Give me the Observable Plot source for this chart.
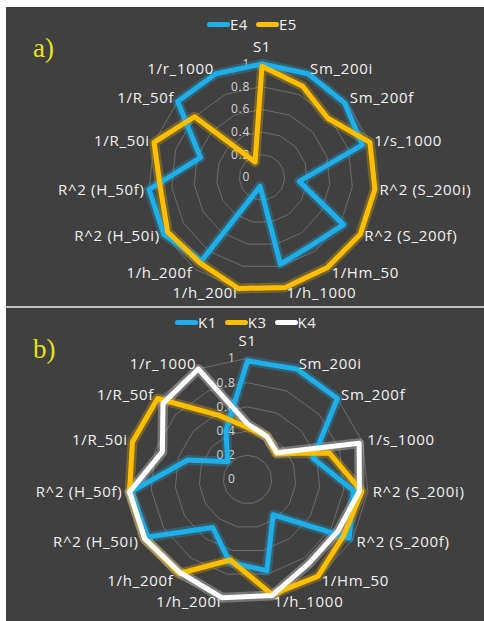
<!DOCTYPE html>
<html><head><meta charset="utf-8">
<script src="https://cdn.jsdelivr.net/npm/d3@7"></script>
<script src="https://cdn.jsdelivr.net/npm/@observablehq/plot@0.6"></script>
<style>
html,body{margin:0;padding:0;background:#fff}
body{width:484px;height:621px;overflow:hidden;position:relative;font-family:"Open Sans",sans-serif}
.panel{position:absolute;left:6px;width:478px;background:#404040;overflow:hidden}
#pa{top:7px;height:299px}
#pb{top:308px;height:313px}
.sep{position:absolute;left:6px;top:306px;width:478px;height:2px;background:#c4c4c4}
.panel svg{position:absolute;left:0;top:0}
.panel svg text{letter-spacing:0.7px}
.tag{position:absolute;left:27px;font-family:"Liberation Serif",serif;font-size:27px;color:#e4e41c;line-height:1}
.legend{position:absolute;top:9px;display:flex;align-items:center;color:#f2f2f2;font-size:15px;letter-spacing:0.5px;line-height:12px;height:12px}
.legend .sw{display:inline-block;width:23px;height:5px;border-radius:3px}
.legend .lb{margin-right:8px;line-height:12px}
</style>
</head><body>
<div class="panel" id="pa"></div>
<div class="sep"></div>
<div class="panel" id="pb"></div>
<script>
const categories = ["S1","Sm_200i","Sm_200f","1/s_1000","R^2 (S_200i)","R^2 (S_200f)","1/Hm_50","1/h_1000","1/h_200i","1/h_200f","R^2 (H_50i)","R^2 (H_50f)","1/R_50i","1/R_50f","1/r_1000"];
const ticks = [0, 0.2, 0.4, 0.6, 0.8, 1];
const tickLabels = ["0", "0.2", "0.4", "0.6", "0.8", "1"];

// panel a
const namesA = ["E4", "E5"];
const E4 = [1.0, 1.0, 0.98, 0.93, 0.33, 0.83, 0.74, 0.78, 0.08, 0.91, 1.0, 1.0, 0.57, 1.0, 1.0];
const E5 = [0.98, 0.88, 0.78, 1.0, 1.0, 1.0, 0.98, 0.99, 1.0, 0.93, 0.96, 0.9, 1.0, 0.8, 0.15];

// panel b
const namesB = ["K1", "K3", "K4"];
const K1 = [0.98, 1.0, 1.0, 0.57, 0.88, 0.97, 0.36, 0.77, 0.70, 0.49, 0.95, 0.97, 0.52, 0.22, 0.44];
const K3 = [0.43, 0.39, 0.32, 0.71, 0.95, 0.92, 0.99, 0.97, 0.68, 0.96, 0.98, 0.98, 1.0, 1.0, 0.58];
const K4 = [0.46, 0.39, 0.33, 0.97, 0.93, 0.86, 0.86, 0.98, 1.0, 0.95, 0.98, 0.98, 0.74, 0.94, 1.0];

const BLUE = "#1eaee8", GOLD = "#ffbf00", WHITE = "#ffffff";

function radar(el, tag, names, seriesVals, colors, cx, cy, R, legendLeft, legendTop) {
  const w = el.clientWidth, h = el.clientHeight;
  const n = categories.length;
  const ang = i => 2 * Math.PI * i / n;
  const X = (r, i) => r * Math.sin(ang(i));
  const Y = (r, i) => r * Math.cos(ang(i));
  const rows = [];
  seriesVals.forEach((vals, s) => vals.forEach((v, i) => rows.push({series: names[s], i, v})));
  const grid = [];
  ticks.filter(t => t > 0).forEach(t => categories.forEach((c, i) => grid.push({t, i})));
  const labels = categories.map((c, i) => ({c, i, s: Math.sin(ang(i))}));
  const LR = 1.04;
  const lx = d => X(LR, d.i), ly = d => Y(LR, d.i);
  const txt = {fill: "#f2f2f2", fontSize: 15, fontFamily: "Open Sans"};
  const plot = Plot.plot({
    width: w, height: h,
    x: {domain: [-1, 1], range: [cx - R, cx + R], axis: null},
    y: {domain: [-1, 1], range: [cy + R, cy - R], axis: null},
    color: {domain: names, range: colors},
    style: {background: "transparent", overflow: "visible"},
    marks: [
      Plot.line(grid, {x: d => X(d.t, d.i), y: d => Y(d.t, d.i), z: "t", curve: "linear-closed", stroke: "#6c6c6c", strokeWidth: 1}),
      Plot.text(ticks, {x: 0, y: d => d, text: (d, k) => tickLabels[k], textAnchor: "end", dx: -12, fill: "#d4d4d4", fontSize: 12, fontFamily: "Open Sans"}),
      Plot.line(rows, {x: d => X(d.v, d.i), y: d => Y(d.v, d.i), z: "series", stroke: "series", curve: "linear-closed", strokeWidth: 10, strokeOpacity: 0.28, strokeLinejoin: "round"}),
      Plot.line(rows, {x: d => X(d.v, d.i), y: d => Y(d.v, d.i), z: "series", stroke: "series", curve: "linear-closed", strokeWidth: 5, strokeLinejoin: "round"}),
      Plot.text(labels.filter(d => d.s > 0.1), {x: lx, y: ly, text: "c", textAnchor: "start", ...txt}),
      Plot.text(labels.filter(d => d.s < -0.1), {x: lx, y: ly, text: "c", textAnchor: "end", ...txt}),
      Plot.text(labels.filter(d => Math.abs(d.s) <= 0.1), {x: lx, y: ly, text: "c", textAnchor: "middle", dy: -12, ...txt})
    ]
  });
  el.appendChild(plot);
  const t = document.createElement("div");
  t.className = "tag"; t.style.top = "28px"; t.textContent = tag;
  el.appendChild(t);
  const lg = document.createElement("div");
  lg.className = "legend"; lg.style.left = legendLeft + "px"; lg.style.top = legendTop + "px";
  names.forEach((nm, k) => {
    const sw = document.createElement("span"); sw.className = "sw"; sw.style.background = colors[k];
    const lb = document.createElement("span"); lb.className = "lb"; lb.textContent = nm;
    lg.appendChild(sw); lg.appendChild(lb);
  });
  el.appendChild(lg);
}

radar(document.getElementById("pa"), "a)", namesA, [E4, E5], [BLUE, GOLD], 255.5, 170, 113.5, 201, 11);
radar(document.getElementById("pb"), "b)", namesB, [K1, K3, K4], [BLUE, GOLD, WHITE], 241, 171, 121, 169, 8);
</script>
</body></html>
